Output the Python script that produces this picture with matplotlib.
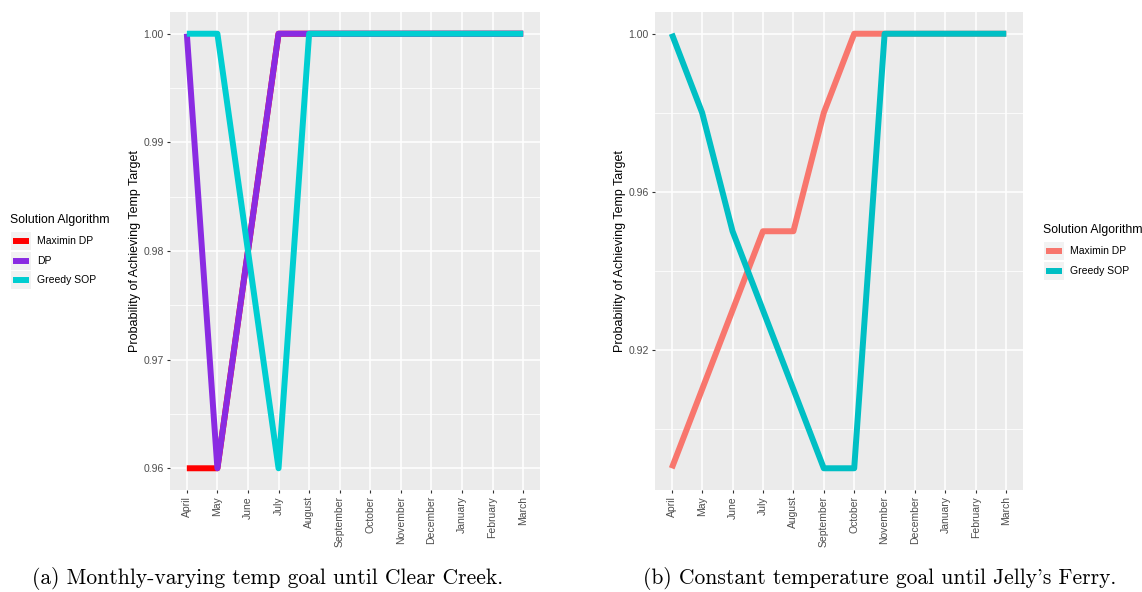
import matplotlib
matplotlib.use("Agg")
import matplotlib.pyplot as plt
from matplotlib.ticker import MultipleLocator

months = ["April", "May", "June", "July", "August", "September", "October",
          "November", "December", "January", "February", "March"]

# Panel (a)
a_maximin_dp = [0.96, 0.96, 0.98, 1.0, 1.0, 1.0, 1.0, 1.0, 1.0, 1.0, 1.0, 1.0]
a_dp = [1.0, 0.96, 0.98, 1.0, 1.0, 1.0, 1.0, 1.0, 1.0, 1.0, 1.0, 1.0]
a_greedy = [1.0, 1.0, 0.98, 0.96, 1.0, 1.0, 1.0, 1.0, 1.0, 1.0, 1.0, 1.0]

# Panel (b)
b_maximin_dp = [0.89, 0.91, 0.93, 0.95, 0.95, 0.98, 1.0, 1.0, 1.0, 1.0, 1.0, 1.0]
b_greedy = [1.0, 0.98, 0.95, 0.93, 0.91, 0.89, 0.89, 1.0, 1.0, 1.0, 1.0, 1.0]

caption_a = "(a) Monthly-varying temp goal until Clear Creek."
caption_b = "(b) Constant temperature goal until Jelly's Ferry."

W, H = 1142, 592
fig = plt.figure(figsize=(W / 100, H / 100), dpi=100)

BG = "#EBEBEB"
LW = 4.3
TICK_FS = 7.5
SANS = "Liberation Sans"


def px_axes(x0, y0, x1, y1):
    return fig.add_axes([x0 / W, 1 - y1 / H, (x1 - x0) / W, (y1 - y0) / H])


def style(ax, ymin, ymax, major, minor):
    ax.set_facecolor(BG)
    for s in ax.spines.values():
        s.set_visible(False)
    x = list(range(len(months)))
    ax.set_xticks(x)
    ax.set_xticklabels(months, rotation=90, fontsize=TICK_FS, color="#4D4D4D",
                       family=SANS)
    ax.set_xlim(-0.55, len(months) - 1 + 0.55)
    rng = ymax - ymin
    ax.set_ylim(ymin - 0.05 * rng, ymax + 0.05 * rng)
    ax.yaxis.set_major_locator(MultipleLocator(major))
    ax.yaxis.set_minor_locator(MultipleLocator(minor))
    ax.yaxis.set_major_formatter(matplotlib.ticker.FormatStrFormatter("%.2f"))
    for lab in ax.get_yticklabels():
        lab.set_fontsize(TICK_FS)
        lab.set_color("#4D4D4D")
        lab.set_family(SANS)
    ax.tick_params(axis="both", which="major", length=2.5, width=0.8,
                   color="#333333", pad=2)
    ax.tick_params(axis="y", which="minor", length=0)
    ax.grid(True, which="major", color="white", linewidth=1.1)
    ax.grid(True, which="minor", axis="y", color="white", linewidth=0.55)
    ax.set_axisbelow(True)
    ax.set_ylabel("Probability of Achieving Temp Target", fontsize=9,
                  family=SANS, labelpad=2)


xs = list(range(len(months)))

# Left panel
axA = px_axes(170, 12, 540, 490)
cA = ["#FF0000", "#8A2BE2", "#00CED1"]
axA.plot(xs, a_maximin_dp, color=cA[0], lw=LW, solid_capstyle="butt")
axA.plot(xs, a_dp, color=cA[1], lw=LW, solid_capstyle="butt")
axA.plot(xs, a_greedy, color=cA[2], lw=LW, solid_capstyle="butt")
style(axA, 0.96, 1.0, 0.01, 0.005)

# Right panel
axB = px_axes(655, 12, 1023, 490)
cB = ["#F8766D", "#00BFC4"]
axB.plot(xs, b_maximin_dp, color=cB[0], lw=LW, solid_capstyle="butt")
axB.plot(xs, b_greedy, color=cB[1], lw=LW, solid_capstyle="butt")
style(axB, 0.89, 1.0, 0.04, 0.02)


def legend(x_title, y_title, labels, colors):
    fig.text(x_title / W, 1 - y_title / H, "Solution Algorithm", fontsize=8.8,
             family=SANS, va="center", ha="left")
    for i, (lab, c) in enumerate(zip(labels, colors)):
        yk = y_title + 21 + i * 19.5
        kx0 = x_title + 1
        bgax = px_axes(kx0, yk - 9, kx0 + 20, yk + 9)
        bgax.set_facecolor("#F2F2F2")
        bgax.set_xticks([]); bgax.set_yticks([])
        for s in bgax.spines.values():
            s.set_visible(False)
        bgax.set_xlim(0, 1); bgax.set_ylim(0, 1)
        bgax.plot([0.1, 0.9], [0.5, 0.5], color=c, lw=LW, solid_capstyle="butt")
        fig.text((kx0 + 26) / W, 1 - yk / H, lab, fontsize=7.5,
                 family=SANS, va="center", ha="left")


legend(10, 220, ["Maximin DP", "DP", "Greedy SOP"], cA)
legend(1043, 230, ["Maximin DP", "Greedy SOP"], cB)

fig.text(268 / W, 1 - 578 / H, caption_a, fontsize=15.5, family="cmr10",
         ha="center", va="center")
fig.text(880 / W, 1 - 578 / H, caption_b, fontsize=15.5, family="cmr10",
         ha="center", va="center")

fig.savefig("out.png", dpi=100, facecolor="white")
